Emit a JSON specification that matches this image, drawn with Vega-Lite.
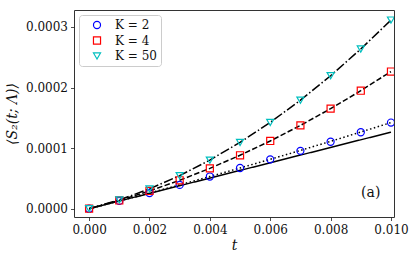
{
  "$schema": "https://vega.github.io/schema/vega-lite/v6.json",
  "autosize": "none",
  "width": 320,
  "height": 207,
  "padding": {"left": 74, "top": 10, "right": 21, "bottom": 46},
  "background": "white",
  "config": {
    "font": "DejaVu Serif",
    "view": {"stroke": "#333", "strokeWidth": 1},
    "axis": {"grid": false, "domain": false, "tickColor": "#222", "tickSize": 3.5, "tickWidth": 0.8, "labelFont": "DejaVu Serif", "labelFontSize": 12, "labelColor": "#111", "titleFont": "DejaVu Serif", "titleFontSize": 14, "titleFontWeight": "normal", "titleFontStyle": "italic", "titleColor": "#111"},
    "legend": {"orient": "none", "legendX": 5, "legendY": 5, "strokeColor": "#cccccc", "fillColor": "white", "cornerRadius": 3, "padding": 4, "symbolOffset": 8, "labelOffset": 12, "rowPadding": 3.5, "labelFont": "DejaVu Serif", "labelFontSize": 12, "labelColor": "#111", "symbolStrokeWidth": 1.2, "symbolSize": 50}
  },
  "datasets": {
    "points": [
      {"t": 0.000, "K": "K = 2", "y": 0},
      {"t": 0.001, "K": "K = 2", "y": 0.0000128},
      {"t": 0.002, "K": "K = 2", "y": 0.0000259},
      {"t": 0.003, "K": "K = 2", "y": 0.0000393},
      {"t": 0.004, "K": "K = 2", "y": 0.0000531},
      {"t": 0.005, "K": "K = 2", "y": 0.0000672},
      {"t": 0.006, "K": "K = 2", "y": 0.0000815},
      {"t": 0.007, "K": "K = 2", "y": 0.0000955},
      {"t": 0.008, "K": "K = 2", "y": 0.0001105},
      {"t": 0.009, "K": "K = 2", "y": 0.0001262},
      {"t": 0.010, "K": "K = 2", "y": 0.0001422},
      {"t": 0.000, "K": "K = 4", "y": 0},
      {"t": 0.001, "K": "K = 4", "y": 0.0000136},
      {"t": 0.002, "K": "K = 4", "y": 0.0000293},
      {"t": 0.003, "K": "K = 4", "y": 0.0000469},
      {"t": 0.004, "K": "K = 4", "y": 0.0000666},
      {"t": 0.005, "K": "K = 4", "y": 0.0000882},
      {"t": 0.006, "K": "K = 4", "y": 0.0001118},
      {"t": 0.007, "K": "K = 4", "y": 0.0001375},
      {"t": 0.008, "K": "K = 4", "y": 0.0001651},
      {"t": 0.009, "K": "K = 4", "y": 0.0001948},
      {"t": 0.010, "K": "K = 4", "y": 0.0002264},
      {"t": 0.000, "K": "K = 50", "y": 0},
      {"t": 0.001, "K": "K = 50", "y": 0.0000145},
      {"t": 0.002, "K": "K = 50", "y": 0.0000327},
      {"t": 0.003, "K": "K = 50", "y": 0.0000546},
      {"t": 0.004, "K": "K = 50", "y": 0.0000802},
      {"t": 0.005, "K": "K = 50", "y": 0.0001095},
      {"t": 0.006, "K": "K = 50", "y": 0.0001424},
      {"t": 0.007, "K": "K = 50", "y": 0.0001791},
      {"t": 0.008, "K": "K = 50", "y": 0.0002195},
      {"t": 0.009, "K": "K = 50", "y": 0.0002636},
      {"t": 0.010, "K": "K = 50", "y": 0.0003114}
    ],
    "fits": [
      {"t": 0.000, "curve": "linear", "y": 0},
      {"t": 0.010, "curve": "linear", "y": 0.0001264},
      {"t": 0.000, "curve": "K2", "y": 0},
      {"t": 0.001, "curve": "K2", "y": 0.0000128},
      {"t": 0.002, "curve": "K2", "y": 0.0000259},
      {"t": 0.003, "curve": "K2", "y": 0.0000393},
      {"t": 0.004, "curve": "K2", "y": 0.0000531},
      {"t": 0.005, "curve": "K2", "y": 0.0000672},
      {"t": 0.006, "curve": "K2", "y": 0.0000815},
      {"t": 0.007, "curve": "K2", "y": 0.0000962},
      {"t": 0.008, "curve": "K2", "y": 0.0001112},
      {"t": 0.009, "curve": "K2", "y": 0.0001266},
      {"t": 0.010, "curve": "K2", "y": 0.0001422},
      {"t": 0.000, "curve": "K4", "y": 0},
      {"t": 0.001, "curve": "K4", "y": 0.0000136},
      {"t": 0.002, "curve": "K4", "y": 0.0000293},
      {"t": 0.003, "curve": "K4", "y": 0.0000469},
      {"t": 0.004, "curve": "K4", "y": 0.0000666},
      {"t": 0.005, "curve": "K4", "y": 0.0000882},
      {"t": 0.006, "curve": "K4", "y": 0.0001118},
      {"t": 0.007, "curve": "K4", "y": 0.0001375},
      {"t": 0.008, "curve": "K4", "y": 0.0001651},
      {"t": 0.009, "curve": "K4", "y": 0.0001948},
      {"t": 0.010, "curve": "K4", "y": 0.0002264},
      {"t": 0.000, "curve": "K50", "y": 0},
      {"t": 0.001, "curve": "K50", "y": 0.0000145},
      {"t": 0.002, "curve": "K50", "y": 0.0000327},
      {"t": 0.003, "curve": "K50", "y": 0.0000546},
      {"t": 0.004, "curve": "K50", "y": 0.0000802},
      {"t": 0.005, "curve": "K50", "y": 0.0001095},
      {"t": 0.006, "curve": "K50", "y": 0.0001424},
      {"t": 0.007, "curve": "K50", "y": 0.0001791},
      {"t": 0.008, "curve": "K50", "y": 0.0002195},
      {"t": 0.009, "curve": "K50", "y": 0.0002636},
      {"t": 0.010, "curve": "K50", "y": 0.0003114}
    ],
    "notes": [
      {"t": 0.00933, "y": 0.0000264, "label": "(a)"}
    ]
  },
  "layer": [
    {
      "data": {"name": "fits"},
      "mark": {"type": "line", "color": "black", "strokeWidth": 1.5, "clip": true},
      "encoding": {
        "x": {"field": "t", "type": "quantitative", "scale": {"domain": [-0.0005, 0.0101], "nice": false, "zero": false},
              "axis": {"values": [0, 0.002, 0.004, 0.006, 0.008, 0.01], "format": ".3f", "title": "t", "labelPadding": 4, "titlePadding": 3}},
        "y": {"field": "y", "type": "quantitative", "scale": {"domain": [-0.0000137, 0.000328], "nice": false, "zero": false},
              "axis": {"values": [0, 0.0001, 0.0002, 0.0003], "format": ".4f", "title": "⟨S₂(t; Λ)⟩", "labelPadding": 3, "titlePadding": 6}},
        "detail": {"field": "curve", "type": "nominal"},
        "strokeDash": {"field": "curve", "type": "nominal", "legend": null,
          "scale": {"domain": ["linear", "K2", "K4", "K50"], "range": [[1, 0], [1.5, 2.5], [5.5, 2.4], [9.6, 2.4, 1.5, 2.4]]}}
      }
    },
    {
      "data": {"name": "points"},
      "mark": {"type": "point", "filled": false, "strokeWidth": 1.2, "size": 50, "opacity": 1, "clip": true},
      "encoding": {
        "x": {"field": "t", "type": "quantitative"},
        "y": {"field": "y", "type": "quantitative"},
        "color": {"field": "K", "type": "nominal", "scale": {"domain": ["K = 2", "K = 4", "K = 50"], "range": ["#0000ff", "#ff0000", "#00bfbf"]}, "legend": {"title": null}},
        "shape": {"field": "K", "type": "nominal", "scale": {"domain": ["K = 2", "K = 4", "K = 50"], "range": ["circle", "square", "triangle-down"]}, "legend": {"title": null}}
      }
    },
    {
      "data": {"name": "notes"},
      "mark": {"type": "text", "fontSize": 14, "font": "DejaVu Serif", "color": "#111", "align": "center", "baseline": "middle"},
      "encoding": {
        "x": {"field": "t", "type": "quantitative"},
        "y": {"field": "y", "type": "quantitative"},
        "text": {"field": "label"}
      }
    }
  ]
}
